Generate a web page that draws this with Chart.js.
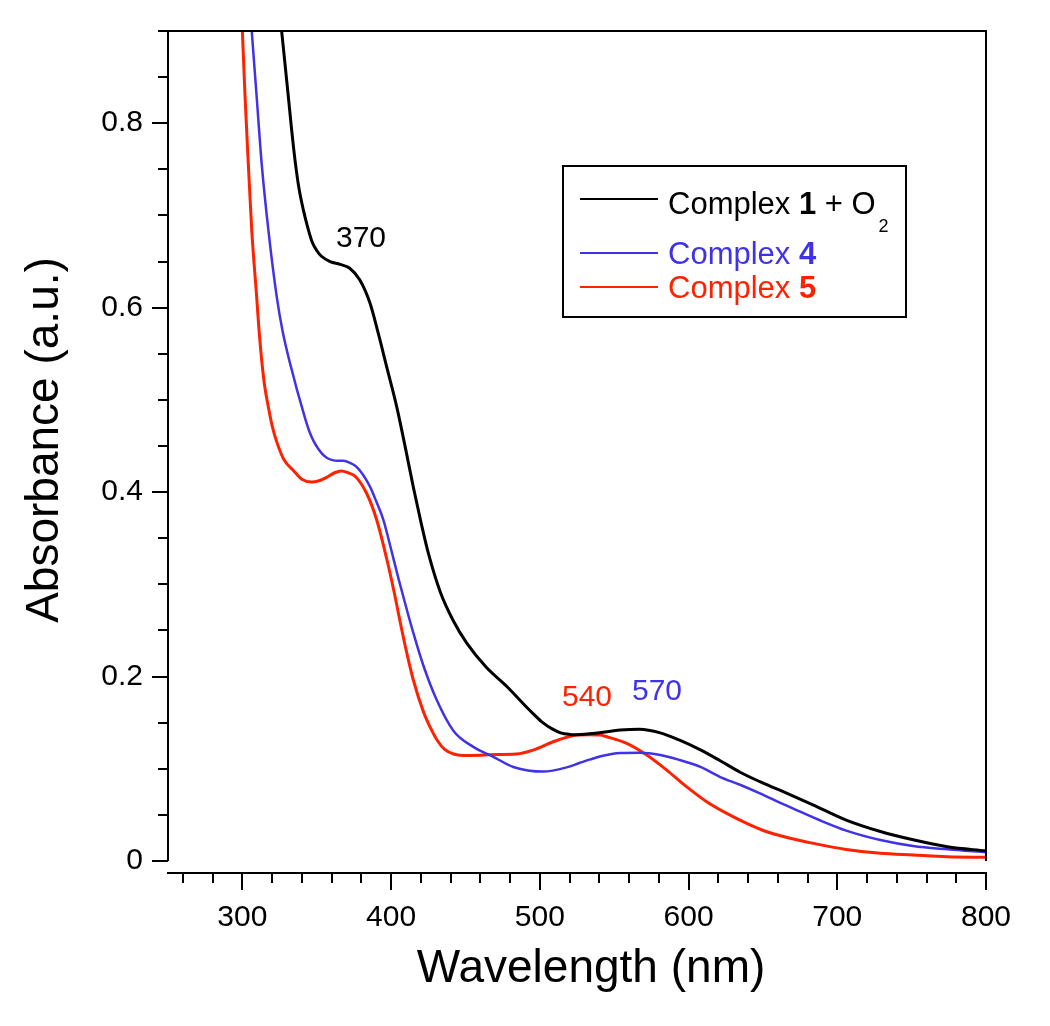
<!DOCTYPE html>
<html>
<head>
<meta charset="utf-8">
<script src="https://cdn.jsdelivr.net/npm/chart.js@4.4.1/dist/chart.umd.min.js"></script>
<style>
  html, body { margin: 0; padding: 0; background: #fff; }
  #wrap { width: 1050px; height: 1026px; }
</style>
</head>
<body>
<div id="wrap"><canvas id="uvvis"></canvas></div>
<script>
const FONT = "'Liberation Sans', Arial, Helvetica, sans-serif";
const BLACK = '#000000';
const BLUE = '#4032e6';
const RED = '#ff2200';

// Complex 1 + O2
const wl1 = [320, 326.4, 330.9, 333, 335.4, 338, 341, 344.3, 347, 350, 353, 359, 365.6, 372, 379, 385.8, 391.4, 397, 403.8, 410,
  415, 420, 425, 433, 442, 451, 464, 478, 491, 496, 502, 508, 514, 520, 525, 540, 554, 567, 581, 594, 608, 621, 635, 648, 661,
  684, 706, 729, 751, 774, 800];
const abs1 = [1.0, 0.9, 0.829, 0.795, 0.76, 0.73, 0.706, 0.685, 0.671, 0.662, 0.656, 0.650, 0.647, 0.643, 0.630, 0.605, 0.572, 0.536, 0.4925, 0.445,
  0.405, 0.368, 0.334, 0.292, 0.26, 0.236, 0.21, 0.189, 0.167, 0.159, 0.150, 0.1435, 0.139, 0.1373, 0.137, 0.139, 0.142, 0.143, 0.139, 0.131, 0.1205, 0.109, 0.096, 0.086, 0.077,
  0.0607, 0.0444, 0.032, 0.023, 0.0155, 0.011];

// Complex 4
const wl4 = [303, 306.3, 309.6, 313, 317.5, 323.1, 327, 332, 342, 345, 348, 351, 354, 357, 360, 364, 368, 372, 377, 385.8, 390, 394.8, 400, 405,
  410, 415, 421.7, 430.7, 442, 455, 468.7, 482.2, 502.3, 518, 527, 534, 541, 554, 567, 581, 594, 608, 621, 635, 648,
  661, 675, 690, 706, 729, 751, 774, 800];
const abs4 = [0.97, 0.9, 0.829, 0.756, 0.684, 0.612, 0.575, 0.54, 0.481, 0.466, 0.455, 0.447, 0.441, 0.437, 0.435, 0.434, 0.434, 0.432, 0.427, 0.406, 0.39, 0.37, 0.338, 0.306,
  0.276, 0.247, 0.212, 0.1745, 0.141, 0.124, 0.113, 0.102, 0.097, 0.1015, 0.1065, 0.1102, 0.1135, 0.117, 0.1174, 0.115, 0.1095, 0.102, 0.0913, 0.0824, 0.0733,
  0.0635, 0.0535, 0.043, 0.033, 0.0228, 0.0163, 0.0127, 0.0095];

// Complex 5
const wl5 = [298, 300, 301.8, 304, 306.3, 309.6, 311, 313, 315, 317.5, 320, 323, 328, 334, 340, 346.6, 351, 356.7, 362, 366.5, 371, 376, 383.6,
  390.3, 397, 402, 406, 410.5, 415, 421.7, 426, 431, 436, 442, 448, 460, 472, 484, 496, 509, 525, 533, 540.5, 545, 558.4,
  571.9, 585.3, 598.8, 612.2, 625.7, 639.1, 652.6, 665, 684, 706, 729, 751, 774, 800];
const abs5 = [0.96, 0.9, 0.829, 0.756, 0.684, 0.612, 0.58, 0.543, 0.515, 0.492, 0.472, 0.455, 0.435, 0.424, 0.414, 0.411, 0.412, 0.416, 0.421, 0.423, 0.421, 0.417, 0.3985,
  0.37, 0.328, 0.292, 0.26, 0.226, 0.196, 0.162, 0.146, 0.131, 0.121, 0.116, 0.1145, 0.1148, 0.1155, 0.116, 0.1205, 0.1293, 0.1366, 0.137, 0.1366, 0.1347, 0.1275,
  0.1149, 0.0986, 0.0804, 0.0643, 0.0516, 0.0408, 0.0317, 0.026, 0.0191, 0.0125, 0.0083, 0.0065, 0.0047, 0.004];

const xTicks = [300, 400, 500, 600, 700, 800];
const yTicks = [0, 0.2, 0.4, 0.6, 0.8];

const pts = (xs, ys) => xs.map((x, i) => ({ x: x, y: ys[i] }));

// axes box, offset x axis and minor ticks, Origin style
const frame = {
  id: 'frame',
  afterDatasetsDraw(chart) {
    const { ctx, chartArea: a, scales } = chart;
    const xs = scales.x, ys = scales.y;
    const y0 = ys.getPixelForValue(0);
    ctx.save();
    ctx.strokeStyle = '#000';
    ctx.lineWidth = 2;
    ctx.beginPath();
    ctx.moveTo(a.left, y0); ctx.lineTo(a.left, a.top);
    ctx.lineTo(a.right, a.top); ctx.lineTo(a.right, y0);
    ctx.moveTo(a.left - 1, a.bottom); ctx.lineTo(a.right + 1, a.bottom);
    for (let i = 0; i <= 18; i++) {
      const py = Math.round(ys.getPixelForValue(i * 0.05));
      const len = i % 4 === 0 ? 16 : 10;
      ctx.moveTo(a.left, py); ctx.lineTo(a.left - len, py);
    }
    for (let v = 260; v <= 800; v += 20) {
      const px = Math.round(xs.getPixelForValue(v));
      const len = v % 100 === 0 ? 17 : 10;
      ctx.moveTo(px, a.bottom); ctx.lineTo(px, a.bottom + len);
    }
    ctx.stroke();

    // axis titles
    ctx.fillStyle = '#000';
    ctx.font = '46px ' + FONT;
    ctx.textAlign = 'center';
    ctx.textBaseline = 'middle';
    ctx.fillText('Wavelength (nm)', 591, 969);
    ctx.save();
    ctx.translate(45, 440);
    ctx.rotate(-Math.PI / 2);
    ctx.fillText('Absorbance (a.u.)', 0, 0);
    ctx.restore();

    // peak labels
    ctx.font = '30px ' + FONT;
    ctx.fillStyle = BLACK; ctx.fillText('370', 361, 239);
    ctx.fillStyle = RED; ctx.fillText('540', 587, 698);
    ctx.fillStyle = BLUE; ctx.fillText('570', 657, 692);

    // legend
    ctx.lineWidth = 2;
    ctx.strokeRect(563, 166, 343, 151);
    const rows = [
      { c: BLACK, y: 199, base: 214, num: '1', o2: true },
      { c: BLUE, y: 253, base: 264, num: '4' },
      { c: RED, y: 287, base: 298, num: '5' }
    ];
    ctx.textAlign = 'left';
    ctx.textBaseline = 'alphabetic';
    rows.forEach(r => {
      ctx.strokeStyle = r.c;
      ctx.lineWidth = 2;
      ctx.beginPath(); ctx.moveTo(580, r.y); ctx.lineTo(658, r.y); ctx.stroke();
      ctx.fillStyle = r.c;
      let x = 668;
      ctx.font = '31px ' + FONT;
      ctx.fillText('Complex ', x, r.base);
      x += ctx.measureText('Complex ').width;
      ctx.font = 'bold 31px ' + FONT;
      ctx.fillText(r.num, x, r.base);
      x += ctx.measureText(r.num).width;
      if (r.o2) {
        ctx.font = '31px ' + FONT;
        ctx.fillText(' + O', x, r.base);
        x += ctx.measureText(' + O').width;
        ctx.font = '18px ' + FONT;
        ctx.fillText('2', x + 3, r.base + 18);
      }
    });
    ctx.restore();
  }
};

new Chart(document.getElementById('uvvis'), {
  type: 'line',
  data: {
    datasets: [
      { label: 'Complex 1 + O2', data: pts(wl1, abs1), borderColor: BLACK, borderWidth: 3 },
      { label: 'Complex 4', data: pts(wl4, abs4), borderColor: BLUE, borderWidth: 2.5 },
      { label: 'Complex 5', data: pts(wl5, abs5), borderColor: RED, borderWidth: 3 }
    ]
  },
  options: {
    responsive: true,
    maintainAspectRatio: false,
    animation: false,
    layout: { padding: { top: 31, right: 64, left: 0, bottom: 0 } },
    elements: {
      point: { radius: 0 },
      line: { cubicInterpolationMode: 'monotone', fill: false }
    },
    plugins: { legend: { display: false }, tooltip: { enabled: false } },
    scales: {
      x: {
        type: 'linear', min: 250, max: 800,
        afterBuildTicks: s => { s.ticks = xTicks.map(v => ({ value: v })); },
        afterFit: s => { s.height = 153; s.paddingLeft = 0; s.paddingRight = 0; },
        grid: { display: false, drawTicks: false },
        border: { display: false },
        ticks: { color: '#000', padding: 27, maxRotation: 0, autoSkip: false, font: { family: FONT, size: 30 } }
      },
      y: {
        min: -0.013, max: 0.9,
        afterBuildTicks: s => { s.ticks = yTicks.map(v => ({ value: v })); },
        afterFit: s => { s.width = 168; s.paddingTop = 0; s.paddingBottom = 0; },
        grid: { display: false, drawTicks: false },
        border: { display: false },
        ticks: { color: '#000', padding: 25, font: { family: FONT, size: 30 }, callback: v => v === 0 ? '0' : v.toFixed(1) }
      }
    }
  },
  plugins: [frame]
});
</script>
</body>
</html>
